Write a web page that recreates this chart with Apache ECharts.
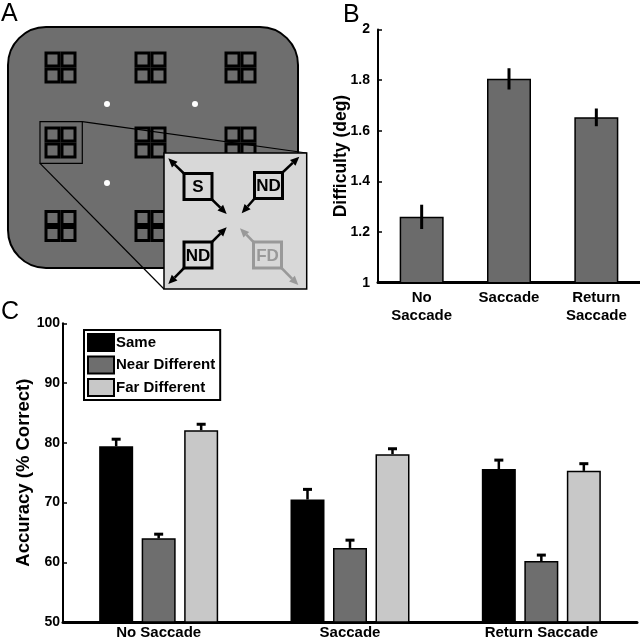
<!DOCTYPE html>
<html>
<head>
<meta charset="utf-8">
<script src="https://cdn.jsdelivr.net/npm/echarts@6/dist/echarts.min.js"></script>
<style>html,body{margin:0;padding:0;background:#fff}#c{width:640px;height:640px}</style>
</head>
<body>
<div id="c"></div>
<script>
// ---- Data ----
const categoriesB = ['No\nSaccade', 'Saccade', 'Return\nSaccade'];
const difficulty = [1.26, 1.805, 1.653];
const difficultyErr = [0.048, 0.042, 0.035];
const ticksB = [1, 1.2, 1.4, 1.6, 1.8, 2];

const categoriesC = ['No Saccade', 'Saccade', 'Return Saccade'];
const seriesNames = ['Same', 'Near Different', 'Far Different'];
const sameAcc = [79.4, 70.5, 75.6];
const sameErr = [1.2, 1.7, 1.5];
const nearAcc = [64.0, 62.4, 60.2];
const nearErr = [0.7, 1.3, 1.0];
const farAcc = [82.1, 78.1, 75.3];
const farErr = [1.0, 0.9, 1.2];
const ticksC = [50, 60, 70, 80, 90, 100];

// ---- Style ----
const FONT = "'Liberation Sans', Arial, Helvetica, sans-serif";
const colC = ['#000000', '#6e6e6e', '#c8c8c8'];
const BAR_W_C = 34, BAR_GAP_C = 0.25;

const chart = echarts.init(document.getElementById('c'), null, {renderer: 'canvas'});

// ---- Panel A schematic (graphic) ----
const g = [];
g.push({type: 'rect', shape: {x: 8, y: 27, width: 290, height: 241, r: 38},
  style: {fill: '#6e6e6e', stroke: '#000', lineWidth: 2}, z: 1});
const colsA = [60.5, 150.5, 240.5], rowsA = [67.5, 142.5, 226];
rowsA.forEach(cy => colsA.forEach(cx => {
  for (let i = 0; i < 2; i++) for (let j = 0; j < 2; j++) {
    g.push({type: 'rect', shape: {x: cx - 14.5 + i * 16, y: cy - 14.5 + j * 16, width: 13, height: 13},
      style: {fill: null, stroke: '#000', lineWidth: 3}, z: 2});
  }
}));
[[107, 104], [195, 104], [107, 183]].forEach(p => g.push({type: 'circle', shape: {cx: p[0], cy: p[1], r: 3},
  style: {fill: '#fff'}, z: 2}));
g.push({type: 'rect', shape: {x: 40, y: 121.7, width: 42.3, height: 41.6},
  style: {fill: null, stroke: '#000', lineWidth: 1.2}, z: 3});
g.push({type: 'line', shape: {x1: 82.3, y1: 121.7, x2: 306.7, y2: 153}, style: {stroke: '#000', lineWidth: 1.2}, z: 3});
g.push({type: 'line', shape: {x1: 40, y1: 163.3, x2: 164, y2: 289}, style: {stroke: '#000', lineWidth: 1.2}, z: 3});
g.push({type: 'rect', shape: {x: 164, y: 153, width: 142.7, height: 136},
  style: {fill: '#d8d8d8', stroke: '#000', lineWidth: 1.5}, z: 4});
function box(cx, cy, label, color) {
  g.push({type: 'rect', shape: {x: cx - 14, y: cy - 13, width: 28, height: 26},
    style: {fill: null, stroke: color, lineWidth: 3}, z: 5});
  g.push({type: 'text', x: cx, y: cy + 1, style: {text: label, fill: color, font: 'bold 17px ' + FONT,
    align: 'center', verticalAlign: 'middle'}, z: 5});
}
function arrow(x1, y1, x2, y2, color) {
  const a = Math.atan2(y2 - y1, x2 - x1), L = 9, W = 4;
  const bx = x2 - L * Math.cos(a), by = y2 - L * Math.sin(a);
  g.push({type: 'line', shape: {x1: x1, y1: y1, x2: bx, y2: by}, style: {stroke: color, lineWidth: 2.5}, z: 5});
  g.push({type: 'polygon', shape: {points: [[x2, y2],
    [bx + W * Math.sin(a), by - W * Math.cos(a)], [bx - W * Math.sin(a), by + W * Math.cos(a)]]},
    style: {fill: color}, z: 5});
}
box(198, 186.5, 'S', '#000');
box(268.5, 185.5, 'ND', '#000');
box(198, 255, 'ND', '#000');
box(267.5, 255, 'FD', '#999');
arrow(184.5, 174, 168.3, 158.3, '#000');
arrow(211.5, 199, 226.7, 214, '#000');
arrow(282, 173, 299.3, 156.7, '#000');
arrow(255, 198, 241.7, 213.3, '#000');
arrow(211.5, 242.5, 226.7, 227.3, '#000');
arrow(184.5, 267.5, 168.3, 284, '#000');
arrow(254, 242.5, 240, 228.3, '#999');
arrow(281, 267.5, 298.3, 285, '#999');

// panel letters
[['A', 1, 2], ['B', 343, 3], ['C', 1, 300]].forEach(p => g.push({type: 'text', x: p[1], y: p[2],
  style: {text: p[0], font: '25px ' + FONT, fill: '#000', align: 'left', verticalAlign: 'top'}, z: 10}));

// ---- Error-bar renderers ----
function errC(offset) {
  return function (params, api) {
    const x = api.value(0), v = api.value(1), e = api.value(2);
    const b = api.coord([x, v]), t = api.coord([x, v + e]);
    const cx = b[0] + offset;
    return {type: 'group', children: [
      {type: 'line', shape: {x1: cx, y1: b[1], x2: cx, y2: t[1]}, style: {stroke: '#000', lineWidth: 2.5}},
      {type: 'line', shape: {x1: cx - 4.5, y1: t[1], x2: cx + 4.5, y2: t[1]}, style: {stroke: '#000', lineWidth: 3}}
    ]};
  };
}
function errB(params, api) {
  const x = api.value(0), v = api.value(1), e = api.value(2);
  const lo = api.coord([x, v - e]), hi = api.coord([x, v + e]);
  return {type: 'line', shape: {x1: lo[0], y1: lo[1], x2: hi[0], y2: hi[1]}, style: {stroke: '#000', lineWidth: 3}};
}

const step = BAR_W_C * (1 + BAR_GAP_C);
const cVals = [sameAcc, nearAcc, farAcc], cErrs = [sameErr, nearErr, farErr];

const series = [];
series.push({type: 'bar', xAxisIndex: 0, yAxisIndex: 0, data: difficulty, barWidth: 44,
  itemStyle: {color: '#6b6b6b', borderColor: '#000', borderWidth: 1.5}, silent: true});
series.push({type: 'custom', xAxisIndex: 0, yAxisIndex: 0, renderItem: errB, z: 5,
  data: difficulty.map((v, i) => [i, v, difficultyErr[i]]), silent: true});
seriesNames.forEach((n, k) => {
  series.push({type: 'bar', name: n, xAxisIndex: 1, yAxisIndex: 1, data: cVals[k], barWidth: BAR_W_C,
    barGap: (BAR_GAP_C * 100) + '%', itemStyle: {color: colC[k], borderColor: '#000', borderWidth: 1.5}, silent: true});
});
seriesNames.forEach((n, k) => {
  series.push({type: 'custom', xAxisIndex: 1, yAxisIndex: 1, renderItem: errC((k - 1) * step), z: 5,
    data: cVals[k].map((v, i) => [i, v, cErrs[k][i]]), silent: true});
});

const axisLbl = {color: '#000', fontFamily: FONT, fontWeight: 'bold'};
chart.setOption({
  animation: false,
  textStyle: {fontFamily: FONT, color: '#000'},
  graphic: g,
  grid: [
    {left: 378, top: 29.5, width: 262, height: 253.2},
    {left: 63, top: 323.3, width: 574, height: 300}
  ],
  xAxis: [
    {type: 'category', gridIndex: 0, data: categoriesB,
      axisLine: {show: true, lineStyle: {color: '#000', width: 3}}, axisTick: {show: false},
      axisLabel: Object.assign({fontSize: 15, margin: 6, lineHeight: 18}, axisLbl)},
    {type: 'category', gridIndex: 1, data: categoriesC,
      axisLine: {show: true, lineStyle: {color: '#000', width: 3}}, axisTick: {show: false},
      axisLabel: Object.assign({fontSize: 15, margin: 3}, axisLbl)}
  ],
  yAxis: [
    {type: 'value', gridIndex: 0, min: ticksB[0], max: ticksB[ticksB.length - 1], interval: 0.2,
      axisLine: {show: true, lineStyle: {color: '#000', width: 2}}, splitLine: {show: false},
      axisTick: {show: true, inside: true, length: 4, lineStyle: {color: '#000', width: 1.5}},
      axisLabel: Object.assign({fontSize: 14, margin: 8, formatter: v => String(Math.round(v * 10) / 10)}, axisLbl),
      name: 'Difficulty (deg)', nameLocation: 'middle', nameGap: 28, nameMoveOverlap: false,
      nameTextStyle: {fontSize: 17.5, color: '#000', fontFamily: FONT, fontWeight: 'bold'}},
    {type: 'value', gridIndex: 1, min: ticksC[0], max: ticksC[ticksC.length - 1], interval: 10,
      axisLine: {show: true, lineStyle: {color: '#000', width: 2}}, splitLine: {show: false},
      axisTick: {show: true, inside: true, length: 4, lineStyle: {color: '#000', width: 1.5}},
      axisLabel: Object.assign({fontSize: 14, margin: 3}, axisLbl),
      name: 'Accuracy (% Correct)', nameLocation: 'middle', nameGap: 30, nameMoveOverlap: false,
      nameTextStyle: {fontSize: 18.5, color: '#000', fontFamily: FONT, fontWeight: 'bold'}}
  ],
  legend: {
    data: seriesNames, orient: 'vertical', left: 84, top: 330, itemWidth: 26, itemHeight: 17, itemGap: 3.5,
    padding: [3, 5, 3, 3], borderColor: '#000', borderWidth: 2, backgroundColor: '#fff', selectedMode: false,
    icon: 'rect', textStyle: {fontSize: 15, color: '#000', fontFamily: FONT, fontWeight: 'bold', padding: [0, 0, 0, -3]}
  },
  series: series
});
</script>
</body>
</html>
